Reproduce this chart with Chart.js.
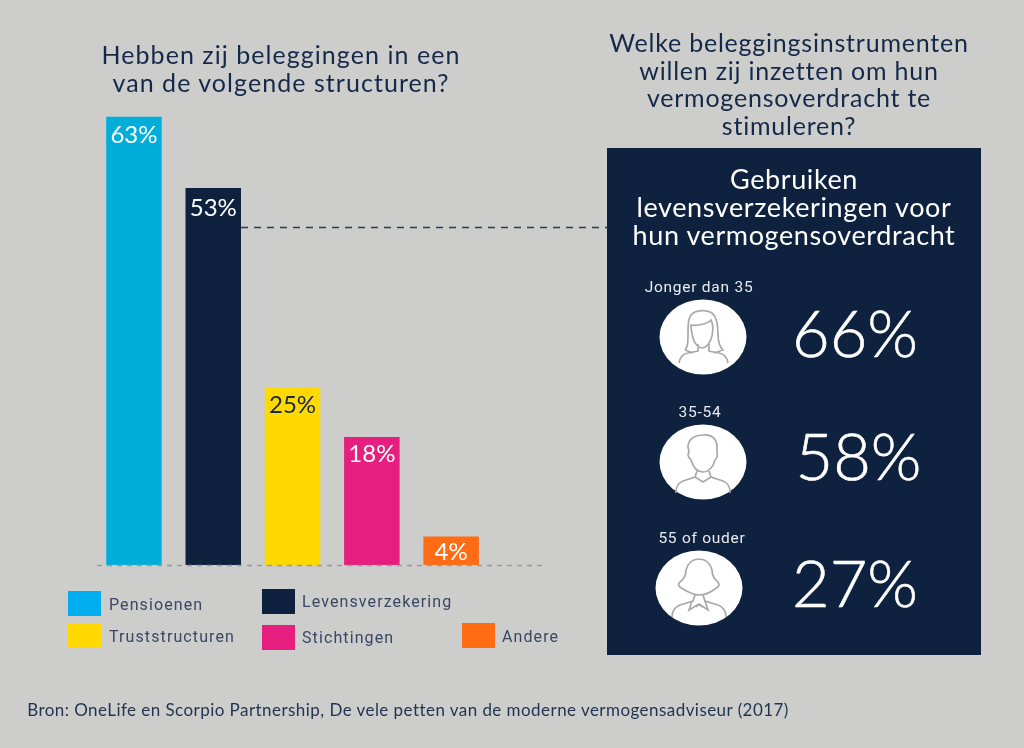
<!DOCTYPE html>
<html><head><meta charset="utf-8">
<script src="https://cdn.jsdelivr.net/npm/chart.js@4"></script>
<style>
html,body{margin:0;padding:0;background:#cdcdcc;overflow:hidden}
#wrap{position:relative;width:1024px;height:748px;background:#cdcdcc;overflow:hidden}
canvas{position:absolute;left:0;top:0}
.t{position:absolute;white-space:nowrap;font-family:Lato,sans-serif;color:#14294a;text-align:center;transform:translateX(-50%)}
.h{font-size:25px;line-height:27.5px;letter-spacing:.78px;font-weight:400}
.leg{position:absolute;white-space:nowrap;font-family:Roboto,sans-serif;font-size:16px;letter-spacing:1.1px;color:#3a4763;line-height:20px}
.sw{position:absolute;width:33px;height:25px}
#panel{position:absolute;left:607px;top:148px;width:374px;height:507px;background:#0e2240}
.w{color:#fff}
.age{font-family:Roboto,sans-serif;font-size:15.5px;letter-spacing:.75px;color:#e8ebef;font-weight:400}
.big{font-size:65px;font-weight:300;line-height:60px;letter-spacing:0;-webkit-text-stroke:.6px #fff}
svg{position:absolute;left:0;top:0}
</style></head><body>
<div id="wrap">
<canvas id="c" width="1024" height="748"></canvas>
<div id="panel"></div>
<svg width="1024" height="748" fill="none" stroke="#a9a9a9" stroke-width="1.7">
 <ellipse cx="703" cy="337" rx="43.5" ry="37.5" fill="#fff" stroke="none"/>
 <ellipse cx="703" cy="462" rx="43.5" ry="37.5" fill="#fff" stroke="none"/>
 <ellipse cx="699" cy="588" rx="43.5" ry="37.5" fill="#fff" stroke="none"/>
 <!-- young woman -->
 <path d="M679 363c1-6 4-9 9-10l10-2v-7M728 363c-1-6-4-9-9-10l-10-2v-7"/>
 <path d="M691 325c3 1 15 0 20-5 2 4 2 11 1 16-2 7-5 11-9 12-4 0-9-4-10-10-1-4-2-9-2-13z"/>
 <path d="M685 350c3-3 3-8 3-16 0-11 0-19 7-22 5-2 13-2 17 1 5 4 6 12 6 21 0 7 1 12 5 16l-9 3M685 350l8 3"/>
 <!-- man -->
 <path d="M676 493c0-7 2-10 7-12l12-4 2-6M730 493c0-7-2-10-7-12l-12-4-2-6"/>
 <path d="M695 477l8 5 8-5"/>
 <path d="M688 447c0-8 7-12 15-12 9-1 14 4 14 12l0 6c1 3-1 6-2 7-2 8-7 12-12 12-6 0-10-5-12-12-2-2-4-5-2-8z"/>
 <!-- older woman -->
 <path d="M672 617c0-6 3-10 8-12l13-4 2-6M726 617c0-6-3-10-8-12l-13-4-2-6"/>
 <path d="M692 601l-3 9 10-6 9 6-3-9M699 604l-3 3M699 604l3 3"/>
 <path d="M680 582c-3 3-1 5 3 7 5 3 11 6 16 6s12-3 16-6c4-2 5-4 3-7-4-3-6-7-6-12-2-7-7-11-13-11s-11 4-13 11c0 5-2 9-6 12z"/>
</svg>
<div class="t h" style="left:281px;top:41px;letter-spacing:1.05px">Hebben zij beleggingen in een<br>van de volgende structuren?</div>
<div class="t h" style="left:789px;top:29px">Welke beleggingsinstrumenten<br>willen zij inzetten om hun<br>vermogensoverdracht te<br>stimuleren?</div>
<div class="t h w" style="left:794px;top:165px;line-height:28px;font-size:27px;color:#fff;letter-spacing:.6px">Gebruiken<br>levensverzekeringen voor<br>hun vermogensoverdracht</div>
<div class="t age" style="left:699px;top:278px">Jonger dan 35</div>
<div class="t age" style="left:700px;top:403px">35-54</div>
<div class="t age" style="left:702px;top:529px">55 of ouder</div>
<div class="t big w" style="left:855px;top:302px;color:#fff">66%</div>
<div class="t big w" style="left:858.5px;top:425px;color:#fff">58%</div>
<div class="t big w" style="left:855px;top:552px;color:#fff">27%</div>
<div id="legend"></div>
<div class="t" style="left:408px;top:699px;font-size:17px;letter-spacing:.45px;color:#1f3350">Bron: OneLife en Scorpio Partnership, De vele petten van de moderne vermogensadviseur (2017)</div>
</div>
<script>
const categories = ["Pensioenen","Levensverzekering","Truststructuren","Stichtingen","Andere"];
const shareValues = [63,53,25,18,4];
const barColors = ["#00aed9","#0e2240","#ffd900","#e61e7f","#ff6c13"];
const legendColors = ["#00aeef","#0e2240","#ffd900","#e61e7f","#ff6c13"];
const labelColors = ["#ffffff","#ffffff","#14294a","#ffffff","#ffffff"];
const labelDrops = [26,28.5,26,25,23.5];
const legendSpots = [[68,591,109,595],[262,589,302,592],[68,623,109,627],[262,625,302,628],[462,623,502,627]];

const leg = document.getElementById('legend');
categories.forEach((name,i)=>{
  const p = legendSpots[i];
  const s = document.createElement('div'); s.className='sw';
  s.style.cssText = `left:${p[0]}px;top:${p[1]}px;background:${legendColors[i]}`;
  const t = document.createElement('div'); t.className='leg';
  t.style.cssText = `left:${p[2]}px;top:${p[3]}px`; t.textContent = name;
  leg.append(s,t);
});

const decor = {
  id:'decor',
  afterDatasetsDraw(chart){
    const {ctx,scales:{y}} = chart;
    const base = y.getPixelForValue(0);
    const metas = chart.getDatasetMeta(0).data;
    ctx.save();
    ctx.setLineDash([5,5]);
    ctx.strokeStyle='#9a9a9a'; ctx.lineWidth=1.3;
    ctx.beginPath(); ctx.moveTo(97,base+0.5); ctx.lineTo(546,base+0.5); ctx.stroke();
    ctx.setLineDash([7,6]);
    ctx.strokeStyle='#2b3c58'; ctx.lineWidth=1.4;
    const b = metas[1];
    ctx.beginPath(); ctx.moveTo(b.x+b.width/2,227.5); ctx.lineTo(607,227.5); ctx.stroke();
    ctx.setLineDash([]);
    ctx.font='400 24px Lato, sans-serif';
    ctx.textAlign='center'; ctx.textBaseline='alphabetic';
    metas.forEach((bar,i)=>{
      ctx.fillStyle=labelColors[i];
      ctx.fillText(shareValues[i]+'%',bar.x,bar.y+labelDrops[i]);
    });
    ctx.restore();
  }
};

new Chart(document.getElementById('c'),{
  type:'bar',
  data:{labels:categories,datasets:[{data:shareValues,backgroundColor:barColors,borderWidth:0,barPercentage:0.7,categoryPercentage:1}]},
  options:{
    responsive:false,animation:false,
    layout:{padding:{left:94.3,right:533.2,top:67,bottom:183}},
    plugins:{legend:{display:false},tooltip:{enabled:false},title:{display:false}},
    scales:{x:{display:false},y:{display:false,min:0,max:70}}
  },
  plugins:[decor]
});
</script>
</body></html>
